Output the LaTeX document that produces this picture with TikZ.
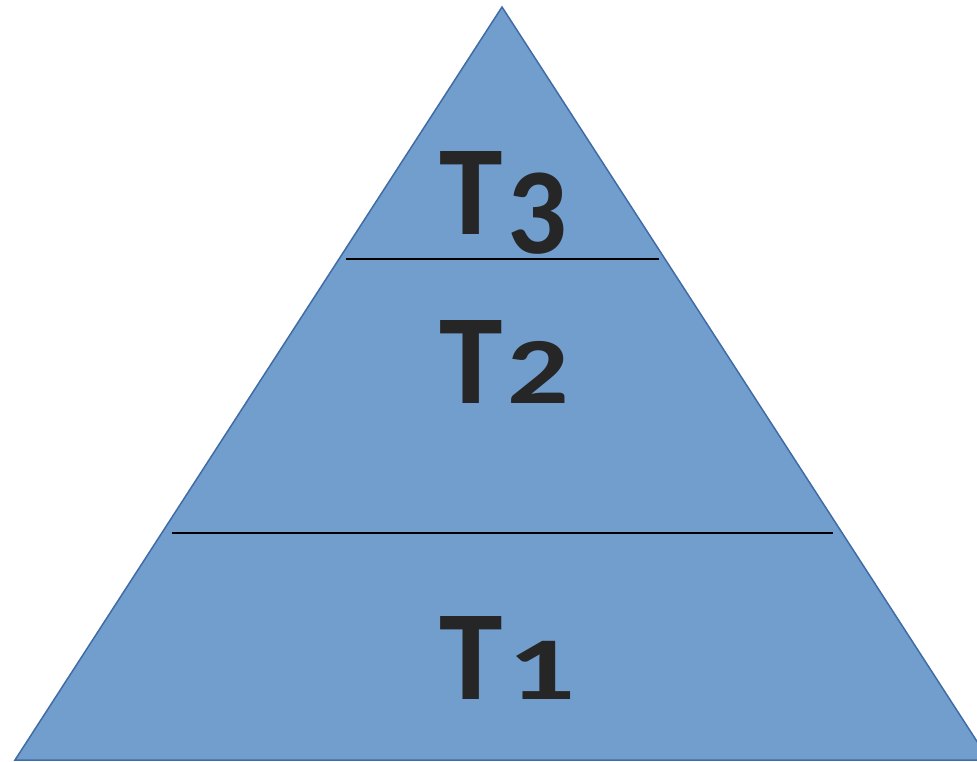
\documentclass[tikz,border=0pt]{standalone}
\usepackage{fontspec}
\setmainfont{Carlito}
\usepackage{tikz}
\usetikzlibrary{positioning}
\definecolor{layerfill}{HTML}{729ECE}
\definecolor{layeredge}{HTML}{3F6CA6}
\definecolor{labelgray}{HTML}{262626}
% old-style figure: digit, x scale, y scale, drop
\newcommand{\tier}[4]{T\kern5pt\raisebox{#4}{\scalebox{#2}[#3]{#1}}}

\begin{document}
\begin{tikzpicture}[
        x=1pt, y=-1pt,
        pyramid/.style={draw=layeredge, fill=layerfill, line width=1.5pt, line join=miter},
        divider/.style={draw=black, line width=1.6pt},
        level/.style={anchor=base west, text=labelgray, inner sep=0pt, font=\fontsize{128}{130}\selectfont\bfseries}
    ]
    \useasboundingbox (0,0) rectangle (977,762);
    \clip (0,0) rectangle (977,762);
    \coordinate (apex) at (502,7);
    \coordinate (left) at (15,760);
    \coordinate (right) at (989,760);
    \path [pyramid] (apex) -- (left) -- (right) -- cycle;
    \draw [divider] (346,259) -- (659,259);
    \draw [divider] (172,533) -- (833,533);
    \node [level] (tthree) at (439,235) {\tier{3}{0.92}{0.96}{-19pt}};
    \node [level] (ttwo) at (439,403) {\tier{2}{0.95}{0.74}{0pt}};
    \node [level] (tone) at (439,699) {\tier{1}{1.05}{0.7}{0pt}};
\end{tikzpicture}
\end{document}
